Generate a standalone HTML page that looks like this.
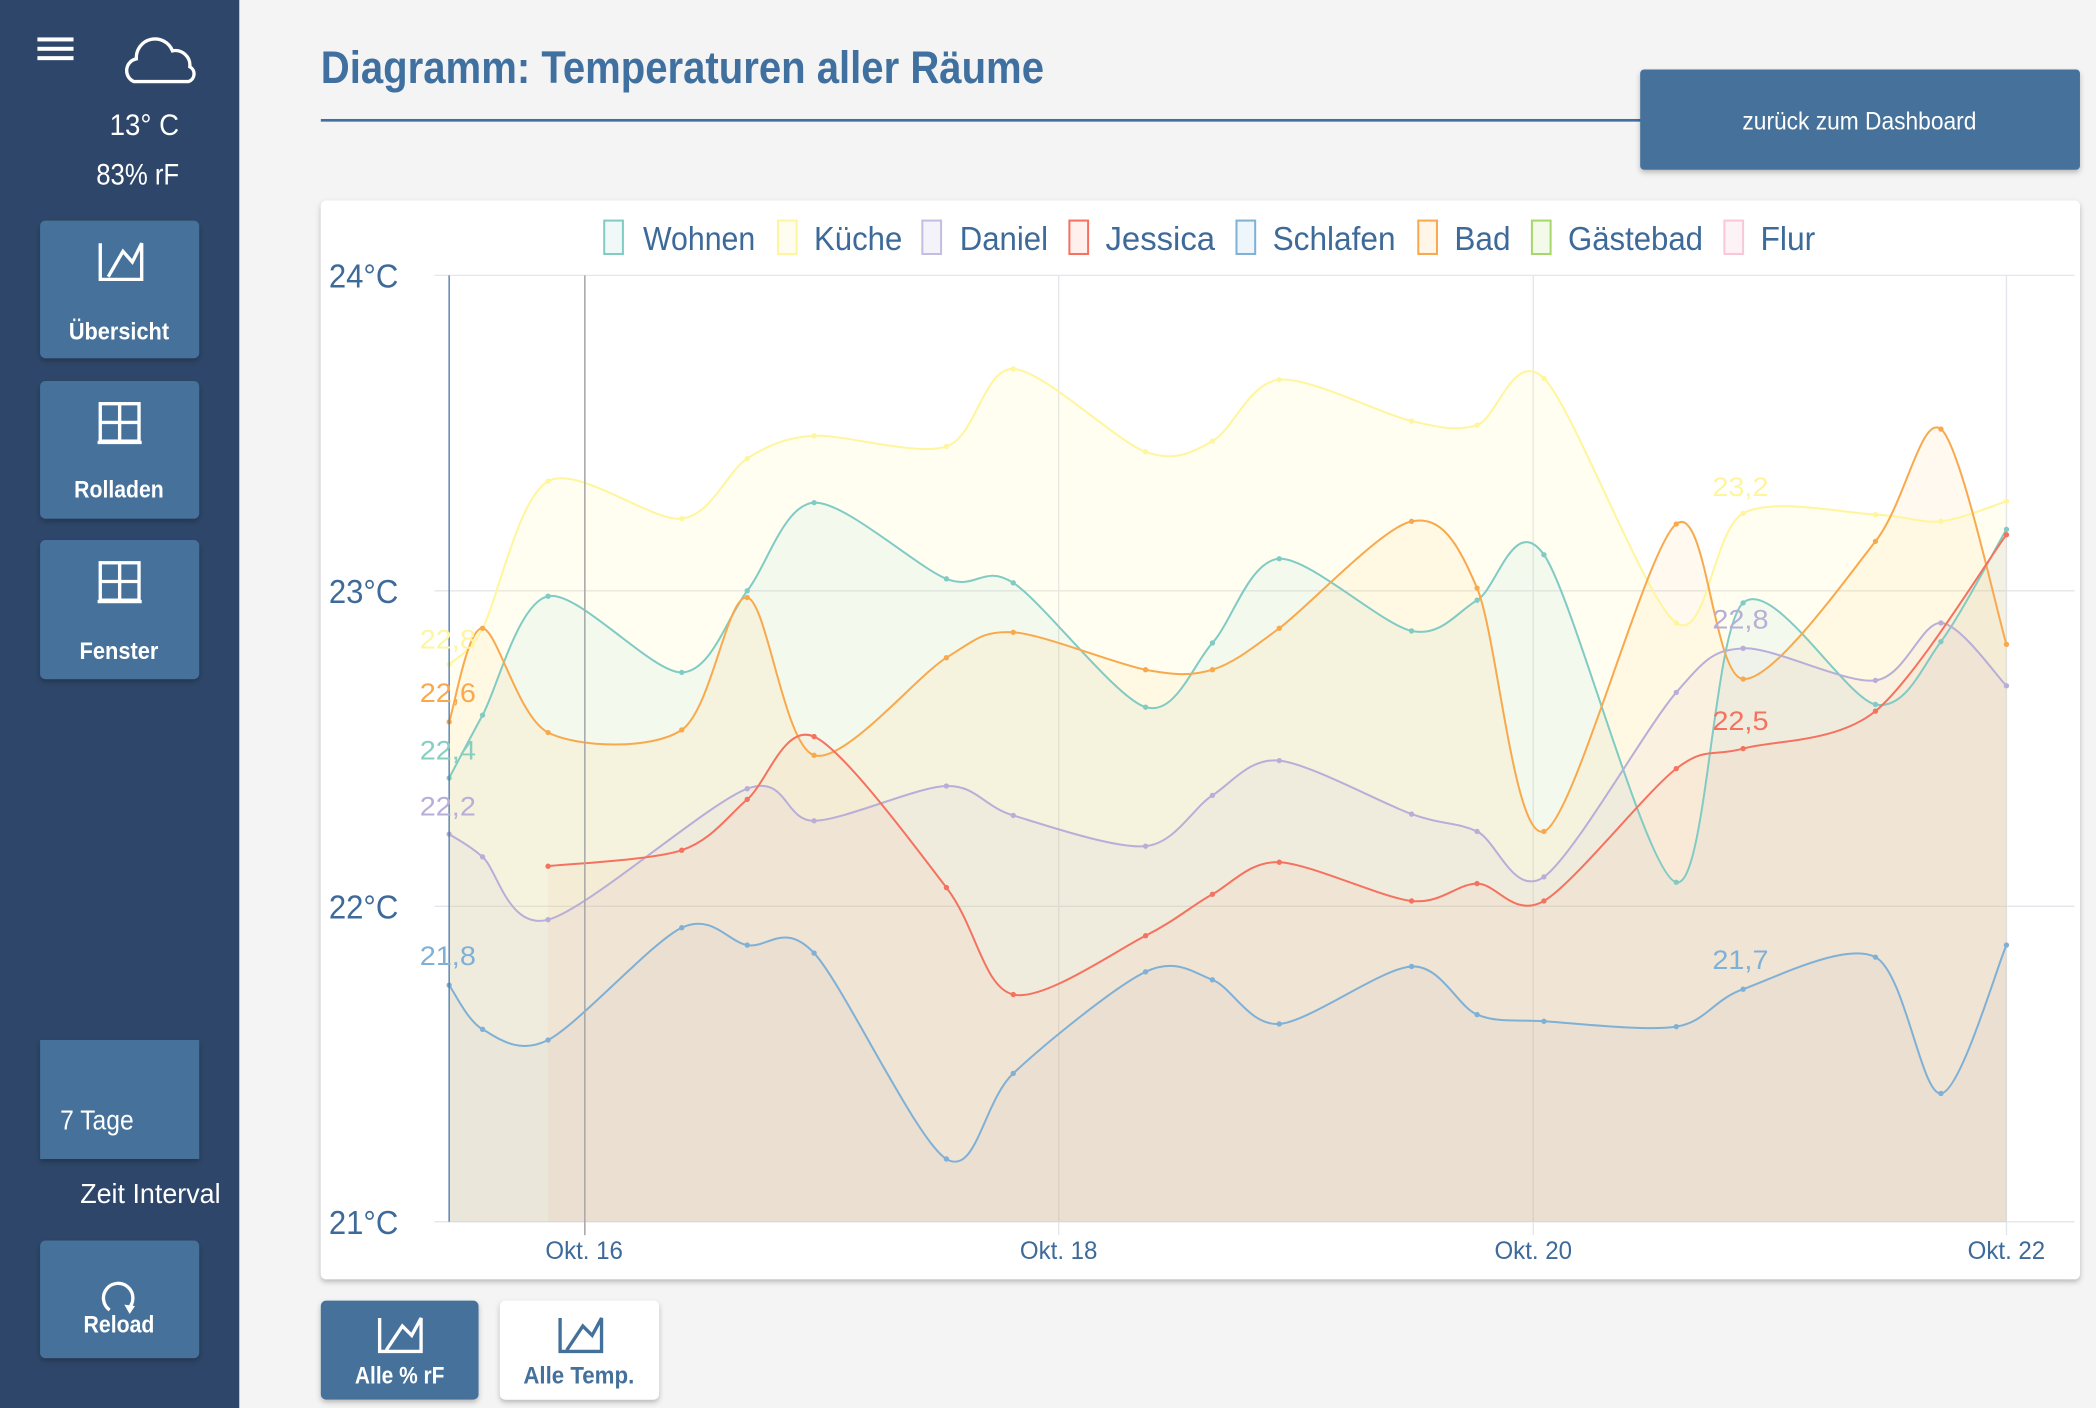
<!DOCTYPE html>
<html><head><meta charset="utf-8"><style>
html,body{margin:0;padding:0;background:#f4f4f4;width:2096px;height:1408px;overflow:hidden}
svg{display:block}
text{font-family:"Liberation Sans",sans-serif}
</style></head><body>
<svg id="s" width="2096" height="1408" viewBox="0 0 1568 1053.3" preserveAspectRatio="none" xmlns="http://www.w3.org/2000/svg">
<defs><filter id="sh" x="-5%" y="-5%" width="110%" height="115%"><feDropShadow dx="0" dy="2" stdDeviation="2" flood-opacity="0.25"/></filter></defs>
<rect width="1568" height="1054" fill="#f4f4f4"/>
<rect width="179" height="1054" fill="#2e4669"/>
<g fill="#fff"><rect x="28" y="28" width="27" height="3"/><rect x="28" y="35" width="27" height="3"/><rect x="28" y="42" width="27" height="3"/></g>
<path d="M100 61 a9 9 0 0 1 2-17 a14 14 0 0 1 27-6 a11 11 0 0 1 13 12 a6 6 0 0 1 -1 11 z" fill="none" stroke="#fff" stroke-width="2.5"/>
<text x="108" y="101" fill="#fff" font-size="22" text-anchor="middle" textLength="52" lengthAdjust="spacingAndGlyphs">13° C</text>
<text x="103" y="138" fill="#fff" font-size="22" text-anchor="middle" textLength="62" lengthAdjust="spacingAndGlyphs">83% rF</text>
<g filter="url(#sh)" fill="#44719b">
<rect x="30" y="165" width="119" height="103" rx="4"/>
<rect x="30" y="285" width="119" height="103" rx="4"/>
<rect x="30" y="404" width="119" height="104" rx="4"/>
<rect x="30" y="778" width="119" height="89"/>
<rect x="30" y="928" width="119" height="88" rx="4"/>
</g>
<g fill="none" stroke="#fff" stroke-width="2.5">
<path d="M75 182 v27 h31 v-27 l-7 14 l-7-8 l-11 19"/>
<rect x="75" y="302" width="29" height="28"/><path d="M89.5 302 v28 M75 316 h29 M73 331 h33"/>
<rect x="75" y="421" width="29" height="28"/><path d="M89.5 421 v28 M75 435 h29 M73 450 h33"/>
<path d="M82 980 a11 11 0 1 1 14 -1"/>
</g>
<path d="M93 976 l8 1 l-4 6z" fill="#fff"/>
<g fill="#fff" font-weight="bold" font-size="18" text-anchor="middle">
<text x="89" y="254" textLength="75" lengthAdjust="spacingAndGlyphs">Übersicht</text>
<text x="89" y="372" textLength="67" lengthAdjust="spacingAndGlyphs">Rolladen</text>
<text x="89" y="493" textLength="59" lengthAdjust="spacingAndGlyphs">Fenster</text>
<text x="89" y="997" textLength="53" lengthAdjust="spacingAndGlyphs">Reload</text>
</g>
<text x="45" y="845" fill="#fff" font-size="21" textLength="55" lengthAdjust="spacingAndGlyphs">7 Tage</text>
<text x="60" y="900" fill="#fff" font-size="21" textLength="105" lengthAdjust="spacingAndGlyphs">Zeit Interval</text>
<text x="240" y="62" fill="#40709f" font-size="34" font-weight="bold" textLength="541" lengthAdjust="spacingAndGlyphs">Diagramm: Temperaturen aller Räume</text>
<rect x="240" y="89" width="988" height="2" fill="#40709f"/>
<rect x="1227" y="52" width="329" height="75" rx="3" fill="#44719b" filter="url(#sh)"/>
<text x="1391" y="97" fill="#fff" font-size="19" text-anchor="middle" textLength="175" lengthAdjust="spacingAndGlyphs">zurück zum Dashboard</text>
<rect x="240" y="150" width="1316" height="807" rx="4" fill="#fff" filter="url(#sh)"/>
<g id="grid" stroke="#e3e6ea" stroke-width="1">
<line x1="325" y1="206" x2="1552" y2="206"/><line x1="325" y1="442" x2="1552" y2="442"/><line x1="325" y1="678" x2="1552" y2="678"/><line x1="325" y1="914" x2="1552" y2="914"/>
<line x1="792" y1="206" x2="792" y2="924"/><line x1="1147" y1="206" x2="1147" y2="924"/><line x1="1501" y1="206" x2="1501" y2="924"/>
</g>
<g id="series"></g>
<line x1="336" y1="206" x2="336" y2="914" stroke="#4a79a8" stroke-width="1"/>
<line x1="437.5" y1="206" x2="437.5" y2="924" stroke="#aaaaaa" stroke-width="1.2"/>
<g fill="#3d6a99" font-size="25">
<text x="246" y="215" textLength="52" lengthAdjust="spacingAndGlyphs">24°C</text>
<text x="246" y="451" textLength="52" lengthAdjust="spacingAndGlyphs">23°C</text>
<text x="246" y="687" textLength="52" lengthAdjust="spacingAndGlyphs">22°C</text>
<text x="246" y="923" textLength="52" lengthAdjust="spacingAndGlyphs">21°C</text>
</g>
<g fill="#3d6a99" font-size="19" text-anchor="middle">
<text x="437" y="942" textLength="58" lengthAdjust="spacingAndGlyphs">Okt. 16</text>
<text x="792" y="942" textLength="58" lengthAdjust="spacingAndGlyphs">Okt. 18</text>
<text x="1147" y="942" textLength="58" lengthAdjust="spacingAndGlyphs">Okt. 20</text>
<text x="1501" y="942" textLength="58" lengthAdjust="spacingAndGlyphs">Okt. 22</text>
</g>
<g id="legend" font-size="25" fill="#3d6a99"></g>
<g font-size="20">
<text x="314" y="485" fill="#fff59d" textLength="42" lengthAdjust="spacingAndGlyphs">22,8</text>
<text x="314" y="525" fill="#f9a94c" textLength="42" lengthAdjust="spacingAndGlyphs">22,6</text>
<text x="314" y="568" fill="#86cfc0" textLength="42" lengthAdjust="spacingAndGlyphs">22,4</text>
<text x="314" y="610" fill="#b8aed8" textLength="42" lengthAdjust="spacingAndGlyphs">22,2</text>
<text x="314" y="722" fill="#7fb0d6" textLength="42" lengthAdjust="spacingAndGlyphs">21,8</text>
<text x="1281" y="371" fill="#fff59d" textLength="42" lengthAdjust="spacingAndGlyphs">23,2</text>
<text x="1281" y="470" fill="#b8aed8" textLength="42" lengthAdjust="spacingAndGlyphs">22,8</text>
<text x="1281" y="546" fill="#f4725f" textLength="42" lengthAdjust="spacingAndGlyphs">22,5</text>
<text x="1281" y="725" fill="#7fb0d6" textLength="42" lengthAdjust="spacingAndGlyphs">21,7</text>
</g>
<rect x="240" y="973" width="118" height="74" rx="4" fill="#44719b" filter="url(#sh)"/>
<rect x="374" y="973" width="119" height="74" rx="4" fill="#fff" filter="url(#sh)"/>
<path d="M284 986 v25 h31 v-25 l-7 13 l-7-7 l-12 18" fill="none" stroke="#fff" stroke-width="2.5"/>
<path d="M419 986 v25 h31 v-25 l-7 13 l-7-7 l-12 18" fill="none" stroke="#44719b" stroke-width="2.5"/>
<text x="299" y="1035" fill="#fff" font-size="18" font-weight="bold" text-anchor="middle" textLength="67" lengthAdjust="spacingAndGlyphs">Alle % rF</text>
<text x="433" y="1035" fill="#44719b" font-size="18" font-weight="bold" text-anchor="middle" textLength="83" lengthAdjust="spacingAndGlyphs">Alle Temp.</text>
</svg>
<script>
var NS="http://www.w3.org/2000/svg";
var S=[
["#fff59d","rgba(255,245,157,0.14)",[[336,497],[361,470],[410,360],[510,388],[559,343],[609,326],[708,334],[758,276],[857,338],[907,330],[957,284],[1056,315],[1105,318],[1155,283],[1254,466],[1304,384],[1403,385],[1452,390],[1501,375]]],
["#80cbc4","rgba(128,203,196,0.09)",[[336,582],[361,535],[410,446],[510,503],[559,442],[609,376],[708,433],[758,436],[857,529],[907,481],[957,418],[1056,472],[1105,449],[1155,415],[1254,660],[1304,451],[1403,527],[1452,480],[1501,396]]],
["#f9a94c","rgba(255,183,77,0.09)",[[336,540],[361,470],[410,548],[510,546],[559,447],[609,565],[708,492],[758,473],[857,501],[907,501],[957,470],[1056,390],[1105,440],[1155,622],[1254,392],[1304,508],[1403,405],[1452,321],[1501,482]]],
["#b8aed8","rgba(179,157,219,0.07)",[[336,624],[361,641],[410,688],[559,590],[609,614],[708,588],[758,610],[857,633],[907,595],[957,569],[1056,609],[1105,622],[1155,656],[1254,518],[1304,485],[1403,509],[1452,466],[1501,513]]],
["#f4725f","rgba(239,154,120,0.08)",[[410,648],[510,636],[559,598],[609,551],[708,664],[758,744],[857,700],[907,669],[957,645],[1056,674],[1105,661],[1155,674],[1254,575],[1304,560],[1403,532],[1501,400]]],
["#7fb0d6","rgba(150,160,170,0.07)",[[336,737],[361,770],[410,778],[510,694],[559,707],[609,713],[708,867],[758,803],[857,727],[907,733],[957,766],[1056,723],[1105,759],[1155,764],[1254,768],[1304,740],[1403,716],[1452,818],[1501,707]]]
];
function path(p){var t=0.3,d="M"+p[0][0]+" "+p[0][1];for(var i=0;i<p.length-1;i++){var p0=p[i-1]||p[i],p1=p[i],p2=p[i+1],p3=p[i+2]||p2;
var c1x=p1[0]+(p2[0]-p0[0])*t/2,c1y=p1[1]+(p2[1]-p0[1])*t/2,c2x=p2[0]-(p3[0]-p1[0])*t/2,c2y=p2[1]-(p3[1]-p1[1])*t/2;
d+=" C"+c1x+" "+c1y+" "+c2x+" "+c2y+" "+p2[0]+" "+p2[1];}return d;}
var g=document.getElementById("series");
S.forEach(function(s){var p=s[2],d=path(p);
var f=document.createElementNS(NS,"path");f.setAttribute("d",d+" L"+p[p.length-1][0]+" 914 L"+p[0][0]+" 914 Z");f.setAttribute("fill",s[1]);g.appendChild(f);});
S.forEach(function(s){var p=s[2];var l=document.createElementNS(NS,"path");l.setAttribute("d",path(p));l.setAttribute("fill","none");l.setAttribute("stroke",s[0]);l.setAttribute("stroke-width","1.5");g.appendChild(l);
p.forEach(function(q){var c=document.createElementNS(NS,"circle");c.setAttribute("cx",q[0]);c.setAttribute("cy",q[1]);c.setAttribute("r","2");c.setAttribute("fill",s[0]);g.appendChild(c);});});
var L=[["Wohnen",452,481,"#80cbc4","#f0f9f8",84],["Küche",582,609,"#fff59d","#fffdf0",66],["Daniel",690,718,"#c5bde0","#f5f3fa",66],["Jessica",800,827,"#f4725f","#fff0ee",82],["Schlafen",925,952,"#7fb0d6","#eef5fb",92],["Bad",1061,1088,"#f9a94c","#fff5e8",42],["Gästebad",1146,1173,"#a5d86a","#f3fae9",101],["Flur",1290,1317,"#f8c8da","#fdf2f6",41]];
var lg=document.getElementById("legend");
L.forEach(function(a){var r=document.createElementNS(NS,"rect");r.setAttribute("x",a[1]);r.setAttribute("y",165);r.setAttribute("width",14);r.setAttribute("height",25);r.setAttribute("fill",a[4]);r.setAttribute("stroke",a[3]);r.setAttribute("stroke-width","1.5");lg.appendChild(r);
var t=document.createElementNS(NS,"text");t.setAttribute("x",a[2]);t.setAttribute("y",187);t.setAttribute("textLength",a[5]);t.setAttribute("lengthAdjust","spacingAndGlyphs");t.textContent=a[0];lg.appendChild(t);});
</script>
</body></html>
